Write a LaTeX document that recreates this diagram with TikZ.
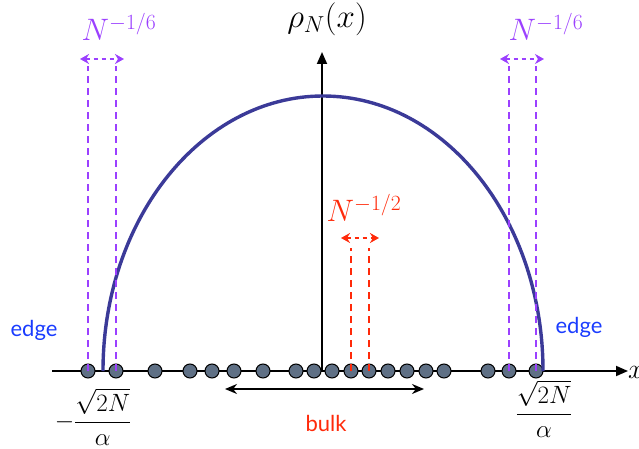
\RequirePackage{fix-cm}
\documentclass[tikz,border=0pt]{standalone}
\usepackage{amsmath}
\usepackage{fontspec}
\setsansfont{Lato}
\usetikzlibrary{arrows.meta, positioning, calc}
\definecolor{curveblue}{HTML}{3B3A98}
\definecolor{edgeviolet}{HTML}{9B40FF}
\definecolor{bulkred}{HTML}{FF2A0A}
\definecolor{edgeblue}{HTML}{1A3CFF}
\definecolor{dotgray}{HTML}{5F7085}

\begin{document}
\begin{tikzpicture}[x=1pt, y=-1pt,
  axis/.style={-{Triangle[length=12pt,width=10pt]}, line width=1.8pt},
  curve/.style={curveblue, line width=3.4pt},
  dot/.style={circle, draw=black, line width=1pt, fill=dotgray,
              minimum size=14pt, inner sep=0pt},
  vdash/.style={edgeviolet, line width=2.8pt, dash pattern=on 7pt off 5pt},
  rdash/.style={bulkred, line width=2.8pt, dash pattern=on 7pt off 5pt},
  width arrow/.style={{Stealth[length=9pt,width=10pt]}-{Stealth[length=9pt,width=10pt]},
                      dash pattern=on 4pt off 4pt},
  mathlbl/.style={font=\fontsize{31}{34}\selectfont},
  fraclbl/.style={font=\fontsize{25}{28}\selectfont},
  textlbl/.style={font=\sffamily\fontsize{22}{25}\selectfont}
]
  \useasboundingbox (0,0) rectangle (639,449);

  % axes
  \coordinate (xstart) at (52,371);
  \coordinate (xend)   at (628,371);
  \coordinate (origin) at (322,371);
  \coordinate (yend)   at (322,52);
  \draw[axis] (xstart) -- (xend);
  \draw[axis] (origin) -- (yend);
  \node[font=\fontsize{28}{30}\selectfont, anchor=west, inner sep=0pt] (xlbl) at (628,372) {$x$};
  \node[font=\fontsize{33}{36}\selectfont] (rho) at (327,19) {$\rho_N(x)$};

  % eigenvalues on the line
  \foreach \px [count=\i] in {88,116,155,190,212,234,263,296,314,332,351,369,388,407,426,444,488,509,536}
    \node[dot] (d\i) at (\px,371) {};

  % semicircle density
  \draw[curve] (103,371) arc[start angle=180, end angle=360, x radius=220, y radius=275];

  % edge scale, left and right
  \coordinate (lva) at (88,66);
  \coordinate (lvb) at (116,66);
  \coordinate (rva) at (509,66);
  \coordinate (rvb) at (536,66);
  \draw[vdash] (d1.center) -- (lva);
  \draw[vdash] (d2.center) -- (lvb);
  \draw[vdash] (d18.center) -- (rva);
  \draw[vdash] (d19.center) -- (rvb);
  \coordinate (la) at (80,59);
  \coordinate (lb) at (124,59);
  \coordinate (ra) at (500,59);
  \coordinate (rb) at (544,59);
  \draw[vdash, width arrow] (la) -- (lb);
  \draw[vdash, width arrow] (ra) -- (rb);
  \node[mathlbl, text=edgeviolet] (lscale) at (119,27) {$N^{-1/6}$};
  \node[mathlbl, text=edgeviolet] (rscale) at (546,27) {$N^{-1/6}$};

  % bulk scale
  \coordinate (cva) at (351,248);
  \coordinate (cvb) at (369,248);
  \draw[rdash] (d11.center) -- (cva);
  \draw[rdash] (d12.center) -- (cvb);
  \coordinate (ca) at (341,238);
  \coordinate (cb) at (379,238);
  \draw[rdash, width arrow] (ca) -- (cb);
  \node[mathlbl, text=bulkred] (cscale) at (364,208) {$N^{-1/2}$};

  % bulk range
  \coordinate (ba) at (225,389);
  \coordinate (bb) at (424,389);
  \draw[{Stealth[length=12pt,width=10pt]}-{Stealth[length=12pt,width=10pt]}, line width=1.8pt] (ba) -- (bb);
  \node[textlbl, text=bulkred] (bulk) at (326,423) {bulk};

  % edges
  \node[textlbl, text=edgeblue] (ledge) at (34,330) {edge};
  \node[textlbl, text=edgeblue] (redge) at (579,327) {edge};
  \node[fraclbl] (lend) at (93,417) {$-\dfrac{\sqrt{2N}}{\alpha}$};
  \node[fraclbl] (rend) at (544,409) {$\dfrac{\sqrt{2N}}{\alpha}$};
\end{tikzpicture}
\end{document}
